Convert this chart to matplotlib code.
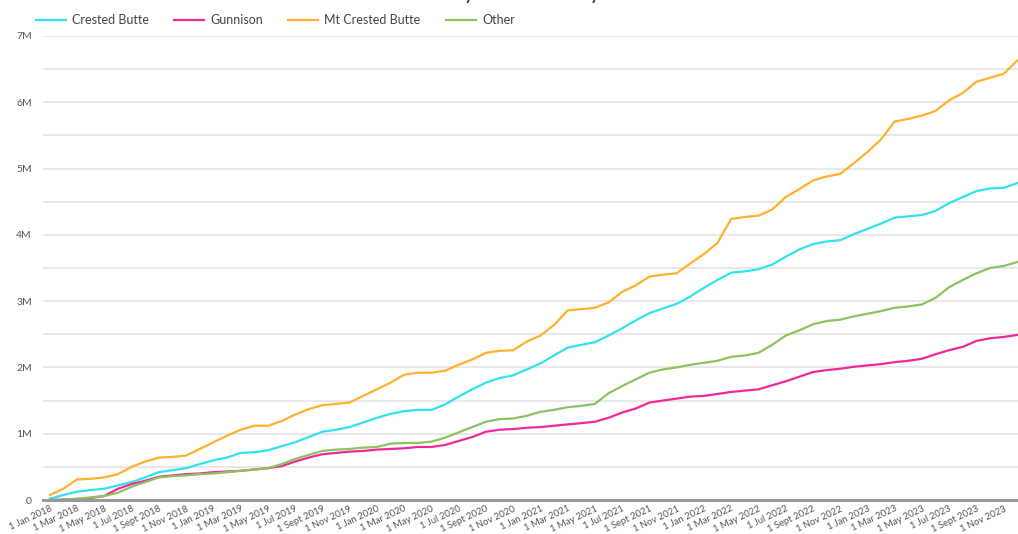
import numpy as np
import pandas as pd
import matplotlib
matplotlib.use('Agg')
import matplotlib.pyplot as plt
from matplotlib.ticker import FuncFormatter, MultipleLocator

plt.rcParams['font.family'] = ['Lato', 'DejaVu Sans']

# monthly cumulative values, in millions, Jan 2018 .. Dec 2023
months = pd.date_range('2018-01-01', '2023-12-01', freq='MS')

crested_butte = [
    0.02, 0.075, 0.125, 0.15, 0.17, 0.22, 0.27, 0.34, 0.42, 0.45, 0.48, 0.54,
    0.60, 0.64, 0.71, 0.72, 0.75, 0.81, 0.87, 0.95, 1.03, 1.06, 1.10, 1.17,
    1.24, 1.30, 1.34, 1.36, 1.36, 1.44, 1.56, 1.67, 1.77, 1.84, 1.88, 1.97,
    2.06, 2.18, 2.30, 2.34, 2.38, 2.48, 2.59, 2.71, 2.82, 2.89, 2.96, 3.07,
    3.20, 3.32, 3.43, 3.45, 3.48, 3.55, 3.67, 3.78, 3.86, 3.90, 3.92, 4.01,
    4.09, 4.17, 4.26, 4.28, 4.30, 4.36, 4.48, 4.57, 4.66, 4.70, 4.71, 4.78,
]
gunnison = [
    0.0, 0.005, 0.015, 0.03, 0.06, 0.17, 0.24, 0.29, 0.35, 0.37, 0.39, 0.40,
    0.42, 0.43, 0.44, 0.46, 0.48, 0.51, 0.58, 0.64, 0.69, 0.71, 0.73, 0.74,
    0.76, 0.77, 0.78, 0.80, 0.80, 0.83, 0.89, 0.95, 1.03, 1.06, 1.07, 1.09,
    1.10, 1.12, 1.14, 1.16, 1.18, 1.24, 1.32, 1.38, 1.47, 1.50, 1.53, 1.56,
    1.57, 1.60, 1.63, 1.65, 1.67, 1.73, 1.79, 1.86, 1.93, 1.96, 1.98, 2.01,
    2.03, 2.05, 2.08, 2.10, 2.13, 2.20, 2.26, 2.31, 2.40, 2.44, 2.46, 2.49,
]
mt_crested_butte = [
    0.075, 0.17, 0.31, 0.32, 0.34, 0.39, 0.50, 0.58, 0.64, 0.65, 0.67, 0.77,
    0.87, 0.97, 1.06, 1.12, 1.12, 1.19, 1.29, 1.37, 1.43, 1.45, 1.47, 1.57,
    1.67, 1.77, 1.89, 1.92, 1.92, 1.95, 2.04, 2.12, 2.22, 2.25, 2.26, 2.39,
    2.48, 2.64, 2.86, 2.88, 2.90, 2.98, 3.14, 3.24, 3.37, 3.40, 3.42, 3.57,
    3.71, 3.88, 4.24, 4.27, 4.29, 4.38, 4.57, 4.69, 4.82, 4.88, 4.92, 5.08,
    5.25, 5.44, 5.71, 5.75, 5.80, 5.87, 6.03, 6.14, 6.31, 6.37, 6.43, 6.63,
]
other = [
    0.0, 0.005, 0.02, 0.04, 0.06, 0.11, 0.20, 0.27, 0.34, 0.36, 0.37, 0.39,
    0.40, 0.42, 0.44, 0.46, 0.48, 0.54, 0.62, 0.68, 0.74, 0.76, 0.77, 0.79,
    0.80, 0.85, 0.86, 0.86, 0.88, 0.94, 1.02, 1.10, 1.18, 1.22, 1.23, 1.27,
    1.33, 1.36, 1.40, 1.42, 1.45, 1.61, 1.72, 1.82, 1.92, 1.97, 2.00, 2.04,
    2.07, 2.10, 2.16, 2.18, 2.22, 2.34, 2.48, 2.56, 2.65, 2.70, 2.72, 2.77,
    2.81, 2.85, 2.90, 2.92, 2.95, 3.05, 3.21, 3.32, 3.42, 3.50, 3.53, 3.59,
]

series = [
    ('Crested Butte', crested_butte, '#30e2f0'),
    ('Gunnison', gunnison, '#f0289a'),
    ('Mt Crested Butte', mt_crested_butte, '#ffb12e'),
    ('Other', other, '#8cc35f'),
]

month_abbr = {1: 'Jan', 3: 'Mar', 5: 'May', 7: 'Jul', 9: 'Sept', 11: 'Nov'}

fig = plt.figure(figsize=(10.18, 5.34), dpi=100)
ax = fig.add_axes([43 / 1018, 34 / 534, 975 / 1018, 464 / 534])

x = np.arange(len(months))
for name, vals, color in series:
    ax.plot(x, np.array(vals) * 1e6, color=color, lw=1.6, label=name, zorder=3)

ax.set_xlim(-0.5, 71.05)
ax.set_ylim(0, 7e6)

ax.yaxis.set_major_locator(MultipleLocator(1e6))
ax.yaxis.set_minor_locator(MultipleLocator(5e5))
ax.yaxis.set_major_formatter(FuncFormatter(lambda v, p: '0' if v == 0 else f'{int(v / 1e6)}M'))
ax.grid(axis='y', which='both', color='#e4e4e4', lw=1.2, zorder=0)
ax.tick_params(axis='y', which='both', length=0, pad=8, labelsize=7.5, labelcolor='#555555')

tick_idx = x[::2]
ax.set_xticks(tick_idx)
ax.set_xticklabels([f'1 {month_abbr[months[i].month]} {months[i].year}' for i in tick_idx],
                   rotation=25, ha='right', rotation_mode='anchor')
ax.tick_params(axis='x', length=0, pad=3, labelsize=6.8, labelcolor='#555555')

for side in ['top', 'right', 'left']:
    ax.spines[side].set_visible(False)
ax.spines['bottom'].set_color('#999999')
ax.spines['bottom'].set_linewidth(2.2)
ax.spines['bottom'].set_zorder(4)

# title sits mostly above the canvas, as in the source screenshot
fig.text(0.516, 1 + 1 / 534, 'Monthly from January 2018', ha='center', va='baseline',
         fontsize=15, color='#333333')

fig.legend(loc='upper left', bbox_to_anchor=(36 / 1018, 1 - 14 / 534), ncol=4, frameon=False,
           fontsize=9, handlelength=2.4, handletextpad=0.5, columnspacing=2.0,
           labelcolor='#444444', borderaxespad=0, borderpad=0)

fig.savefig('out.png', dpi=100)
